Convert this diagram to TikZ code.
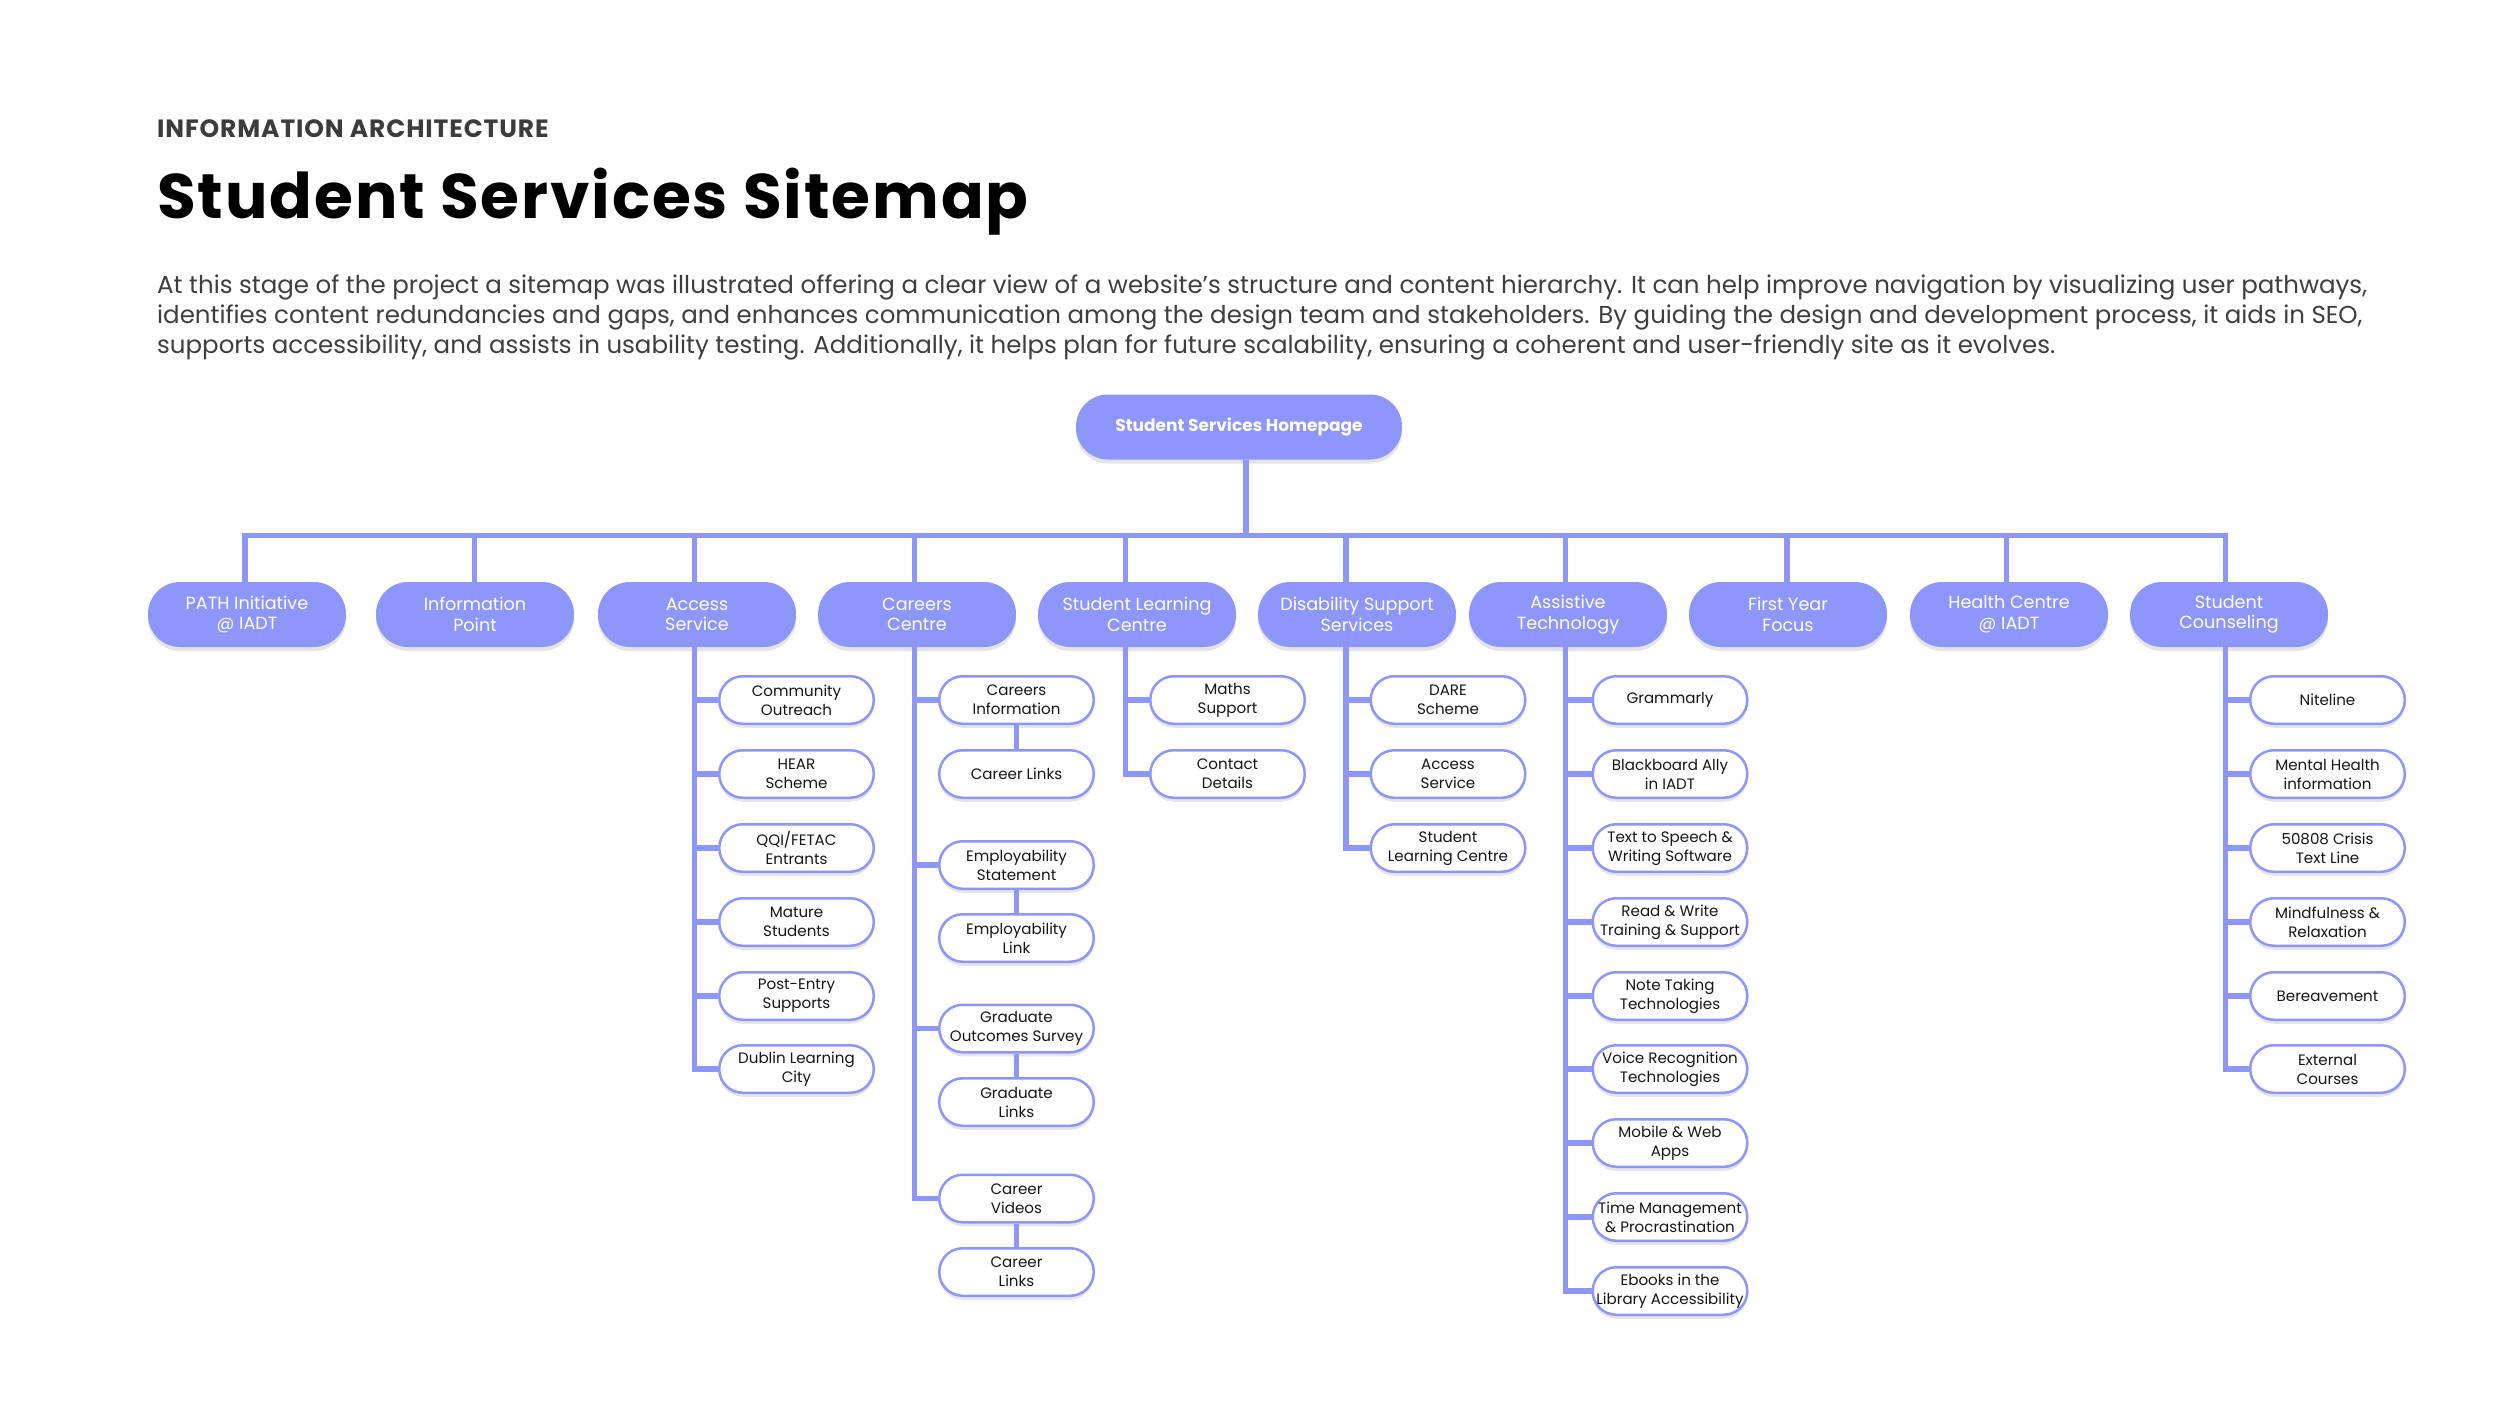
\documentclass[tikz,border=0pt]{standalone}
\usepackage{fontspec}
\setmainfont{Poppins}
\usetikzlibrary{shadows}
\definecolor{peri}{RGB}{141,150,250}
\definecolor{ink}{RGB}{22,22,22}
\definecolor{bodygray}{RGB}{62,62,62}
\definecolor{headgray}{RGB}{60,60,60}
\begin{document}
\begin{tikzpicture}[x=1pt,y=-1pt,
  conn/.style={draw=peri, line width=5.5pt},
  linkline/.style={draw=peri, line width=4.5pt},
  softshadow/.style={drop shadow={shadow xshift=0pt, shadow yshift=-4pt, opacity=0.10, fill=black}},
  rootbox/.style={softshadow, fill=peri, rounded corners=32pt, minimum width=326pt, minimum height=65pt, inner sep=0pt, text=white, font=\fontsize{17}{20}\selectfont\bfseries},
  topbox/.style={softshadow, fill=peri, rounded corners=32pt, minimum width=198pt, minimum height=65pt, inner sep=0pt, align=center, text=white, font=\fontsize{17.6}{20.7}\selectfont},
  subbox/.style={softshadow, fill=white, draw=peri, line width=2.5pt, rounded corners=23.5pt, minimum width=154.5pt, minimum height=47.5pt, inner sep=0pt, align=center, text=ink, font=\fontsize{15.1}{19}\selectfont},
  txt/.style={anchor=base west, inner sep=0pt}
]
\fill[white] (0,0) rectangle (2500,1406);
\useasboundingbox (0,0) rectangle (2500,1406);

% header
\node[txt, text=headgray, font=\fontsize{25}{28}\selectfont\bfseries\addfontfeature{LetterSpace=3.5}] (kicker) at (157,137) {INFORMATION ARCHITECTURE};
\node[txt, text=black, font=\fontsize{63}{70}\selectfont\bfseries\addfontfeature{LetterSpace=3}] (title) at (157,218) {Student Services Sitemap};
\node[txt, text=bodygray, font=\fontsize{24.5}{30}\selectfont] (p1) at (157,293) {At this stage of the project a sitemap was illustrated offering a clear view of a website’s structure and content hierarchy. It can help improve navigation by visualizing user pathways,};
\node[txt, text=bodygray, font=\fontsize{24.5}{30}\selectfont] (p2) at (157,323) {identifies content redundancies and gaps, and enhances communication among the design team and stakeholders. By guiding the design and development process, it aids in SEO,};
\node[txt, text=bodygray, font=\fontsize{24.5}{30}\selectfont] (p3) at (157,353) {supports accessibility, and assists in usability testing. Additionally, it helps plan for future scalability, ensuring a coherent and user-friendly site as it evolves.};

% root
\node[rootbox] (root) at (1239,427) {Student Services Homepage};

% level 1
\node[topbox] (PATH) at (247,614.5) {PATH Initiative\\@ IADT};
\node[topbox] (INFO) at (475,614.5) {Information\\Point};
\node[topbox] (ACC) at (697,614.5) {Access\\Service};
\node[topbox] (CAR) at (917,614.5) {Careers\\Centre};
\node[topbox] (SLC) at (1137,614.5) {Student Learning\\Centre};
\node[topbox] (DIS) at (1357,614.5) {Disability Support\\Services};
\node[topbox] (AST) at (1568,614.5) {Assistive\\Technology};
\node[topbox] (FYF) at (1788,614.5) {First Year\\Focus};
\node[topbox] (HC) at (2009,614.5) {Health Centre\\@ IADT};
\node[topbox] (COU) at (2229,614.5) {Student\\Counseling};

% junction coordinates on the bar
\coordinate (jTR) at (1246,535.5);
\coordinate (jPATH) at (245,535.5);
\coordinate (jINFO) at (474.5,535.5);
\coordinate (jACC) at (694.5,535.5);
\coordinate (jCAR) at (914.5,535.5);
\coordinate (jSLC) at (1125.5,535.5);
\coordinate (jDIS) at (1346,535.5);
\coordinate (jAST) at (1565.5,535.5);
\coordinate (jFYF) at (1787,535.5);
\coordinate (jHC) at (2006.5,535.5);
\coordinate (jCOU) at (2225.5,535.5);

% level 2: Access
\node[subbox] (a1) at (796.5,700) {Community\\Outreach};
\node[subbox] (a2) at (796.5,774) {HEAR\\Scheme};
\node[subbox] (a3) at (796.5,848) {QQI/FETAC\\Entrants};
\node[subbox] (a4) at (796.5,922) {Mature\\Students};
\node[subbox] (a5) at (796.5,996) {Post-Entry\\Supports};
\node[subbox] (a6) at (796.5,1069) {Dublin Learning\\City};

% Careers
\node[subbox] (c1) at (1016.5,700) {Careers\\Information};
\node[subbox] (c2) at (1016.5,774) {Career Links};
\node[subbox] (c3) at (1016.5,865) {Employability\\Statement};
\node[subbox] (c4) at (1016.5,938) {Employability\\Link};
\node[subbox] (c5) at (1016.5,1028.5) {Graduate\\Outcomes Survey};
\node[subbox] (c6) at (1016.5,1102) {Graduate\\Links};
\node[subbox] (c7) at (1016.5,1198.5) {Career\\Videos};
\node[subbox] (c8) at (1016.5,1272) {Career\\Links};

% Student Learning Centre
\node[subbox] (s1) at (1227.5,700) {Maths\\Support};
\node[subbox] (s2) at (1227.5,774) {Contact\\Details};

% Disability
\node[subbox] (d1) at (1448,700) {DARE\\Scheme};
\node[subbox] (d2) at (1448,774) {Access\\Service};
\node[subbox] (d3) at (1448,848) {Student\\Learning Centre};

% Assistive Technology
\node[subbox] (t1) at (1670,700) {Grammarly};
\node[subbox] (t2) at (1670,774) {Blackboard Ally\\in IADT};
\node[subbox] (t3) at (1670,848) {Text to Speech \&\\Writing Software};
\node[subbox] (t4) at (1670,922) {Read \& Write\\Training \& Support};
\node[subbox] (t5) at (1670,996) {Note Taking\\Technologies};
\node[subbox] (t6) at (1670,1069) {Voice Recognition\\Technologies};
\node[subbox] (t7) at (1670,1143) {Mobile \& Web\\Apps};
\node[subbox] (t8) at (1670,1217) {Time Management\\\& Procrastination};
\node[subbox] (t9) at (1670,1291) {Ebooks in the\\Library Accessibility};

% Counseling
\node[subbox] (n1) at (2327.5,700) {Niteline};
\node[subbox] (n2) at (2327.5,774) {Mental Health\\information};
\node[subbox] (n3) at (2327.5,848) {50808 Crisis\\Text Line};
\node[subbox] (n4) at (2327.5,922) {Mindfulness \&\\Relaxation};
\node[subbox] (n5) at (2327.5,996) {Bereavement};
\node[subbox] (n6) at (2327.5,1069) {External\\Courses};

% connectors: trunk and bar
\draw[conn] (root.south -| jTR) -- (jTR);
\draw[conn] (jPATH |- PATH.north) -- (jPATH) -- (jCOU) -- (jCOU |- COU.north);
\foreach \n in {INFO,ACC,CAR,SLC,DIS,AST,FYF,HC}
  \draw[conn] (j\n) -- (j\n |- \n.north);

% spines
\draw[conn] (jACC |- ACC.south) |- (a6.west);
\foreach \k in {a1,a2,a3,a4,a5}
  \draw[conn] (\k.west) -- (\k.west -| jACC);

\draw[conn] (jCAR |- CAR.south) |- (c7.west);
\foreach \k in {c1,c3,c5}
  \draw[conn] (\k.west) -- (\k.west -| jCAR);
\draw[linkline] (c1.south) -- (c2.north);
\draw[linkline] (c3.south) -- (c4.north);
\draw[linkline] (c5.south) -- (c6.north);
\draw[linkline] (c7.south) -- (c8.north);

\draw[conn] (jSLC |- SLC.south) |- (s2.west);
\draw[conn] (s1.west) -- (s1.west -| jSLC);

\draw[conn] (jDIS |- DIS.south) |- (d3.west);
\foreach \k in {d1,d2}
  \draw[conn] (\k.west) -- (\k.west -| jDIS);

\draw[conn] (jAST |- AST.south) |- (t9.west);
\foreach \k in {t1,t2,t3,t4,t5,t6,t7,t8}
  \draw[conn] (\k.west) -- (\k.west -| jAST);

\draw[conn] (jCOU |- COU.south) |- (n6.west);
\foreach \k in {n1,n2,n3,n4,n5}
  \draw[conn] (\k.west) -- (\k.west -| jCOU);
\end{tikzpicture}
\end{document}
